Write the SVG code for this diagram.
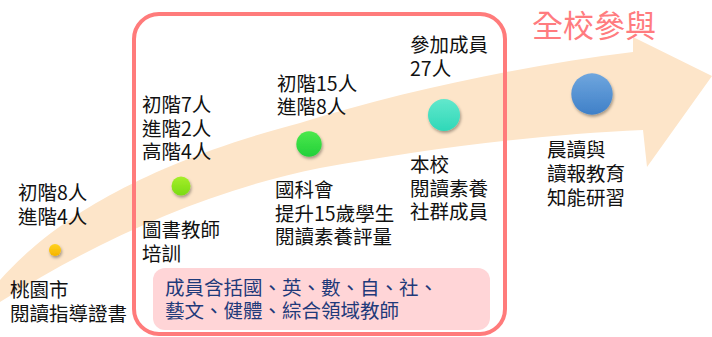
<svg xmlns="http://www.w3.org/2000/svg" width="712" height="337" viewBox="0 0 712 337">
<style>
  .t { font-family: "Noto Sans CJK TC", "Noto Sans CJK SC", "Noto Sans", sans-serif; font-size: 19.5px; fill: #111; }
  .note { font-family: "Noto Sans CJK TC", "Noto Sans CJK SC", "Noto Sans", sans-serif; font-size: 19.5px; fill: #1F3A7A; }
  .title { font-family: "Noto Sans CJK TC", "Noto Sans CJK SC", "Noto Sans", sans-serif; font-size: 31px; fill: #FF7C7F; }
</style>
<defs>
  <filter id="sh" x="-50%" y="-50%" width="200%" height="200%">
    <feDropShadow dx="1" dy="2" stdDeviation="1.5" flood-color="#000" flood-opacity="0.35"/>
  </filter>
  <linearGradient id="gY" x1="0" y1="0" x2="0" y2="1"><stop offset="0" stop-color="#FFD21F"/><stop offset="1" stop-color="#F5B400"/></linearGradient>
  <linearGradient id="gYG" x1="0" y1="0" x2="0" y2="1"><stop offset="0" stop-color="#A6EE2A"/><stop offset="1" stop-color="#7ADB12"/></linearGradient>
  <linearGradient id="gG" x1="0" y1="0" x2="0" y2="1"><stop offset="0" stop-color="#4CE84C"/><stop offset="1" stop-color="#22D03A"/></linearGradient>
  <linearGradient id="gT" x1="0" y1="0" x2="0" y2="1"><stop offset="0" stop-color="#62E8CC"/><stop offset="1" stop-color="#2FD8B8"/></linearGradient>
  <linearGradient id="gB" x1="0" y1="0" x2="0" y2="1"><stop offset="0" stop-color="#6FA6DE"/><stop offset="1" stop-color="#3F80C8"/></linearGradient>
</defs>

<g id="arrow">
  <path d="M 0 280 C 40 235, 120 170, 300 123 C 400 92, 520 66, 633 52 L 633 37 L 712 76 L 647 167 L 643 130 C 540 134, 420 150, 320 168 C 200 192, 90 245, 0 302 Z" fill="#FDE5C9"/>
</g>

<g id="frame">
  <rect x="134" y="14" width="371" height="320" rx="25" ry="25" fill="none" stroke="#FF7B7B" stroke-width="4"/>
</g>

<g id="title">
  <text class="title" x="532" y="37">全校參與</text>
</g>

<g id="connectors"></g>

<g id="node1">
  <circle cx="55" cy="250" r="6" fill="url(#gY)" filter="url(#sh)"/>
  <text class="t" x="18" y="200">初階8人</text>
  <text class="t" x="18" y="223.5">進階4人</text>
  <text class="t" x="10" y="296.5">桃園市</text>
  <text class="t" x="10" y="320.5">閱讀指導證書</text>
</g>

<g id="node2">
  <circle cx="181" cy="186" r="9.5" fill="url(#gYG)" filter="url(#sh)"/>
  <text class="t" x="142" y="112">初階7人</text>
  <text class="t" x="142" y="135.5">進階2人</text>
  <text class="t" x="142" y="159">高階4人</text>
  <text class="t" x="142" y="237">圖書教師</text>
  <text class="t" x="142" y="261">培訓</text>
</g>

<g id="node3">
  <circle cx="309" cy="144" r="12.7" fill="url(#gG)" filter="url(#sh)"/>
  <text class="t" x="277" y="90.5">初階15人</text>
  <text class="t" x="277" y="114">進階8人</text>
  <text class="t" x="275" y="196.5">國科會</text>
  <text class="t" x="275" y="220.5">提升15歲學生</text>
  <text class="t" x="275" y="244">閱讀素養評量</text>
</g>

<g id="node4">
  <circle cx="444" cy="115" r="16" fill="url(#gT)" filter="url(#sh)"/>
  <text class="t" x="410" y="52">參加成員</text>
  <text class="t" x="410" y="76">27人</text>
  <text class="t" x="410" y="172">本校</text>
  <text class="t" x="410" y="196">閱讀素養</text>
  <text class="t" x="410" y="219">社群成員</text>
</g>

<g id="node5">
  <circle cx="592" cy="94" r="20.7" fill="url(#gB)" filter="url(#sh)"/>
  <text class="t" x="547" y="157">晨讀與</text>
  <text class="t" x="547" y="181">讀報教育</text>
  <text class="t" x="547" y="205">知能研習</text>
</g>

<g id="note">
  <rect x="153" y="268" width="337" height="62" rx="12" ry="12" fill="#FFD5D7"/>
  <text class="note" x="165" y="295">成員含括國、英、數、自、社、</text>
  <text class="note" x="165" y="318">藝文、健體、綜合領域教師</text>
</g>
</svg>
